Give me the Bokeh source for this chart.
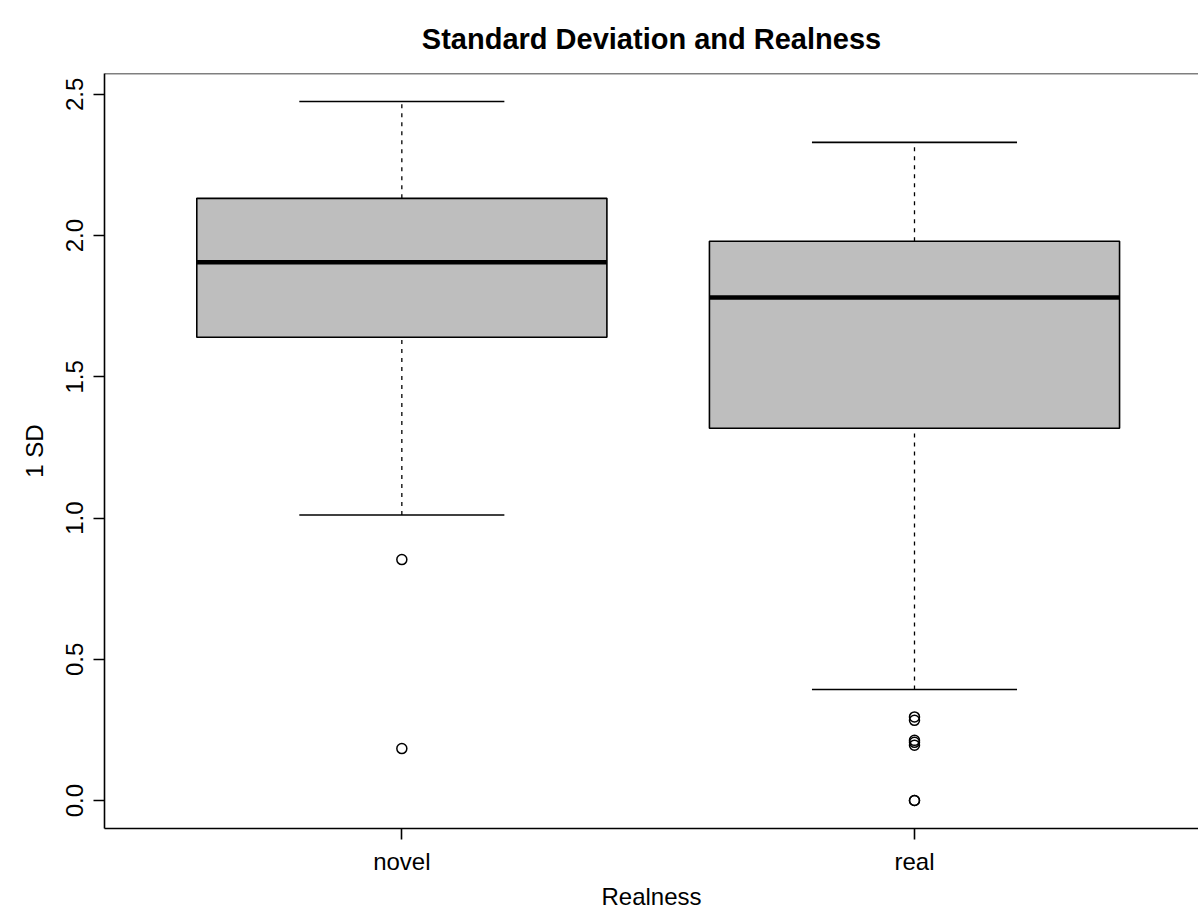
from bokeh.plotting import figure
from bokeh.models import Range1d, FixedTicker, Span, ColumnDataSource
from bokeh.embed import file_html
from bokeh.resources import INLINE

# Five-number summaries of the per-stimulus standard deviation, by realness
groups = ["novel", "real"]
positions = [1, 2]
whisker_low = [1.011, 0.393]
q1 = [1.640, 1.318]
median = [1.906, 1.781]
q3 = [2.132, 1.980]
whisker_high = [2.475, 2.330]

# Points beyond the whiskers
outlier_group = [1, 1, 2, 2, 2, 2, 2, 2, 2]
outlier_value = [0.853, 0.184, 0.296, 0.284, 0.213, 0.206, 0.196, 0.0, 0.0]

y_ticks = [0.0, 0.5, 1.0, 1.5, 2.0, 2.5]

FONT = "Liberation Sans"
BOX_W = 0.8
CAP_W = 0.4
LW = 1.6

p = figure(width=1198, height=916, output_backend="svg", toolbar_location=None,
           x_range=Range1d(0.42, 2.554), y_range=Range1d(-0.099, 2.574),
           min_border_left=104, min_border_right=0, min_border_top=73,
           min_border_bottom=88)
p.background_fill_color = "white"
p.border_fill_color = "white"
p.outline_line_color = None
p.xgrid.visible = False
p.ygrid.visible = False

src = ColumnDataSource(dict(
    x=positions, lo=whisker_low, q1=q1, med=median, q3=q3, hi=whisker_high,
    cl=[x - CAP_W / 2 for x in positions], cr=[x + CAP_W / 2 for x in positions],
    bl=[x - BOX_W / 2 for x in positions], br=[x + BOX_W / 2 for x in positions]))

# whiskers (dashed) from box edges to the extremes
p.segment(x0="x", y0="q3", x1="x", y1="hi", source=src, line_color="black",
          line_width=1.3, line_dash="4 5")
p.segment(x0="x", y0="lo", x1="x", y1="q1", source=src, line_color="black",
          line_width=1.3, line_dash="4 5")
# staples
p.segment(x0="cl", y0="hi", x1="cr", y1="hi", source=src, line_color="black", line_width=LW)
p.segment(x0="cl", y0="lo", x1="cr", y1="lo", source=src, line_color="black", line_width=LW)
# boxes
p.vbar(x="x", width=BOX_W, bottom="q1", top="q3", source=src,
       fill_color="#bebebe", line_color="black", line_width=LW)
# medians
p.segment(x0="bl", y0="med", x1="br", y1="med", source=src,
          line_color="black", line_width=4.5)

# outliers
p.scatter(outlier_group, outlier_value, marker="circle", size=10,
          fill_color=None, line_color="black", line_width=1.5)

# frame top edge
p.add_layout(Span(location=2.574, dimension="width", line_color="black", line_width=LW))

# axes
p.xaxis.ticker = FixedTicker(ticks=positions)
p.xaxis.major_label_overrides = {1: groups[0], 2: groups[1]}
p.yaxis.ticker = FixedTicker(ticks=y_ticks)
p.yaxis.major_label_overrides = {v: f"{v:.1f}" for v in y_ticks}
p.yaxis.major_label_orientation = "vertical"
for ax in (p.xaxis[0], p.yaxis[0]):
    ax.axis_line_color = "black"
    ax.axis_line_width = LW
    ax.major_tick_line_color = "black"
    ax.major_tick_line_width = LW
    ax.major_tick_out = 11
    ax.major_tick_in = 0
    ax.minor_tick_line_color = None
    ax.major_label_text_font = FONT
    ax.major_label_text_font_size = "24px"
    ax.major_label_text_color = "black"
    ax.axis_label_text_font = FONT
    ax.axis_label_text_font_style = "normal"
    ax.axis_label_text_font_size = "24px"
    ax.axis_label_text_color = "black"
p.xaxis.major_label_standoff = 8
p.yaxis.major_label_standoff = 10
p.yaxis.axis_label = "1 SD"
p.yaxis.axis_label_standoff = 16
p.xaxis.axis_label = "Realness"
p.xaxis.axis_label_standoff = 5

p.title.text = "Standard Deviation and Realness"
p.title.text_font = FONT
p.title.text_font_size = "29px"
p.title.text_font_style = "bold"
p.title.text_color = "black"
p.title.align = "center"
p.title.offset = 6
p.title.standoff = 38

open("out.html", "w").write(file_html(p, INLINE))
